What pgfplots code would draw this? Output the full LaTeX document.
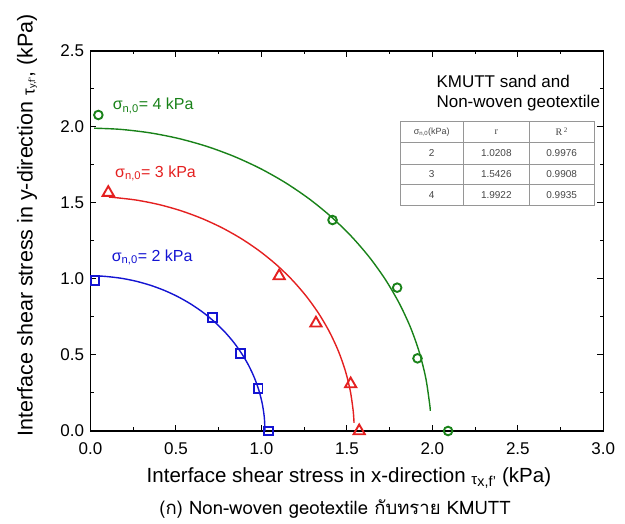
\documentclass[border=0pt]{standalone}
\usepackage{pgfplots}
\pgfplotsset{compat=1.18}
\usepackage{fontspec}
\setmainfont{Liberation Sans}
\newfontfamily\thaifont[Script=Thai]{Loma}
\newfontfamily\seriffont{Liberation Serif}
\definecolor{cblue}{RGB}{20,20,210}
\definecolor{cred}{RGB}{228,32,32}
\definecolor{cgreen}{RGB}{25,130,25}
\definecolor{tgray}{RGB}{70,70,70}
\definecolor{lgray}{RGB}{150,150,150}
\begin{document}
\begin{tikzpicture}
\path[use as bounding box] (-90.5pt,-93pt) rectangle (534.5pt,431pt);
\begin{axis}[
  at={(0pt,0pt)}, anchor=south west,
  scale only axis, width=512.8pt, height=380pt,
  xmin=0, xmax=3, ymin=0, ymax=2.5,
  xtick={0,0.5,1,1.5,2,2.5,3}, ytick={0,0.5,1,1.5,2,2.5},
  minor x tick num=1, minor y tick num=1,
  tick align=inside, tick pos=both,
  major tick length=6pt, minor tick length=3.5pt,
  axis line style={line width=1.1pt},
  tick style={black, line width=1pt},
  /pgf/number format/assume math mode=true,
  ticklabel style={font=\fontsize{17}{17}\selectfont},
  xticklabel style={yshift=-8pt, /pgf/number format/.cd, fixed, fixed zerofill, precision=1},
  yticklabel style={xshift=-3pt, /pgf/number format/.cd, fixed, fixed zerofill, precision=1},
  xlabel={Interface shear stress in x-direction \raisebox{-2pt}{\fontsize{15}{15}\selectfont τ}\textsubscript{x,f'} (kPa)},
  ylabel={Interface shear stress in y-direction \raisebox{-2pt}{\fontsize{17}{17}\selectfont τ}{\fontsize{13}{13}\selectfont\textsubscript{y,f'}}, (kPa)},
  x label style={font=\fontsize{20.5}{24}\selectfont, at={(axis description cs:0.504,-0.1237)}, anchor=center},
  y label style={font=\fontsize{21.5}{24}\selectfont, at={(axis description cs:-0.1238,0.542)}, anchor=center, rotate=0},
  clip=false,
]
% fitted curves (circles, r = 1.0208, 1.5426, 1.9922)
\addplot[cblue, line width=1.4pt, smooth, no markers] coordinates {
(0.0356,1.0202) (0.0890,1.0169) (0.1773,1.0053) (0.2642,0.9860) (0.3491,0.9592)
(0.4314,0.9252) (0.5104,0.8840) (0.5855,0.8362) (0.6562,0.7820) (0.7218,0.7218)
(0.7820,0.6562) (0.8362,0.5855) (0.8840,0.5104) (0.9252,0.4314) (0.9592,0.3491)
(0.9860,0.2642) (1.0053,0.1773) (1.0169,0.0890) (1.0208,0)};
\addplot[cred, line width=1.4pt, smooth, no markers] coordinates {
(0.1076,1.5388) (0.1345,1.5367) (0.2679,1.5192) (0.3993,1.4900) (0.5276,1.4496)
(0.6519,1.3981) (0.7713,1.3359) (0.8848,1.2636) (0.9916,1.1817) (1.0908,1.0908)
(1.1817,0.9916) (1.2636,0.8848) (1.3359,0.7713) (1.3981,0.6519) (1.4496,0.5276)
(1.4900,0.3993) (1.5192,0.2679) (1.5367,0.1345) (1.5417,0.0538)};
\addplot[cgreen, line width=1.4pt, smooth, no markers] coordinates {
(0.0209,1.9921) (0.1736,1.9846) (0.3459,1.9619) (0.5156,1.9243) (0.6814,1.8721)
(0.8419,1.8055) (0.9961,1.7253) (1.1427,1.6319) (1.2806,1.5261) (1.4087,1.4087)
(1.5261,1.2806) (1.6319,1.1427) (1.7253,0.9961) (1.8055,0.8419) (1.8721,0.6814)
(1.9243,0.5156) (1.9619,0.3459) (1.9846,0.1736) (1.9878,0.1320)};
% measured points
\addplot[cblue, only marks, mark=square, mark size=4.3pt, line width=1.9pt] coordinates {
(0.026,0.989) (0.715,0.748) (0.878,0.511) (0.981,0.278) (1.040,0.0)};
\addplot[cred, only marks, mark=triangle, mark size=6.5pt, line width=1.9pt] coordinates {
(0.104,1.568) (1.104,1.020) (1.319,0.709) (1.522,0.309) (1.572,0.0)};
\addplot[cgreen, only marks, mark=o, mark size=4.3pt, line width=1.9pt] coordinates {
(0.046,2.079) (1.416,1.388) (1.794,0.943) (1.913,0.478) (2.092,0.0)};
\node[anchor=base west, cgreen, font=\fontsize{16}{16}\selectfont] at (axis cs:0.11,2.115) {σ\textsubscript{n,0}= 4 kPa};
\node[anchor=base west, cred, font=\fontsize{16}{16}\selectfont] at (axis cs:0.124,1.669) {σ\textsubscript{n,0}= 3 kPa};
\node[anchor=base west, cblue, font=\fontsize{16}{16}\selectfont] at (axis cs:0.104,1.117) {σ\textsubscript{n,0}= 2 kPa};
\end{axis}
% inset title and table
\node[anchor=base west, font=\fontsize{17}{17}\selectfont] at (342.5pt,343pt) {KMUTT sand and};
\node[anchor=base west, font=\fontsize{17}{17}\selectfont] at (342.5pt,323.5pt) {Non-woven geotextile};
\fill[white] (309.5pt,225.3pt) rectangle (503.5pt,310pt);
\draw[lgray, line width=0.6pt] (309.5pt,225.3pt) rectangle (503.5pt,310pt);
\foreach \yy in {288.3,267,246.3} \draw[lgray, line width=0.6pt] (309.5pt,\yy pt) -- (503.5pt,\yy pt);
\foreach \xx in {372.8,438.8} \draw[lgray, line width=0.6pt] (\xx pt,225.3pt) -- (\xx pt,310pt);
\begin{scope}[every node/.style={tgray, font=\fontsize{10}{10}\selectfont}]
\node at (341.2pt,299.2pt) {\fontsize{9}{9}\selectfont σ\textsubscript{n,0}(kPa)};
\node at (405.8pt,299.2pt) {\seriffont r};
\node at (471.2pt,299.2pt) {\seriffont R\,\textsuperscript{2}};
\node at (341.2pt,277.7pt) {2};
\node at (405.8pt,277.7pt) {1.0208};
\node at (471.2pt,277.7pt) {0.9976};
\node at (341.2pt,256.7pt) {3};
\node at (405.8pt,256.7pt) {1.5426};
\node at (471.2pt,256.7pt) {0.9908};
\node at (341.2pt,235.8pt) {4};
\node at (405.8pt,235.8pt) {1.9922};
\node at (471.2pt,235.8pt) {0.9935};
\end{scope}
\node[font=\thaifont\fontsize{18.5}{18.5}\selectfont] at (244.5pt,-78pt) {(ก) Non-woven geotextile กับทราย KMUTT};
\end{tikzpicture}
\end{document}
